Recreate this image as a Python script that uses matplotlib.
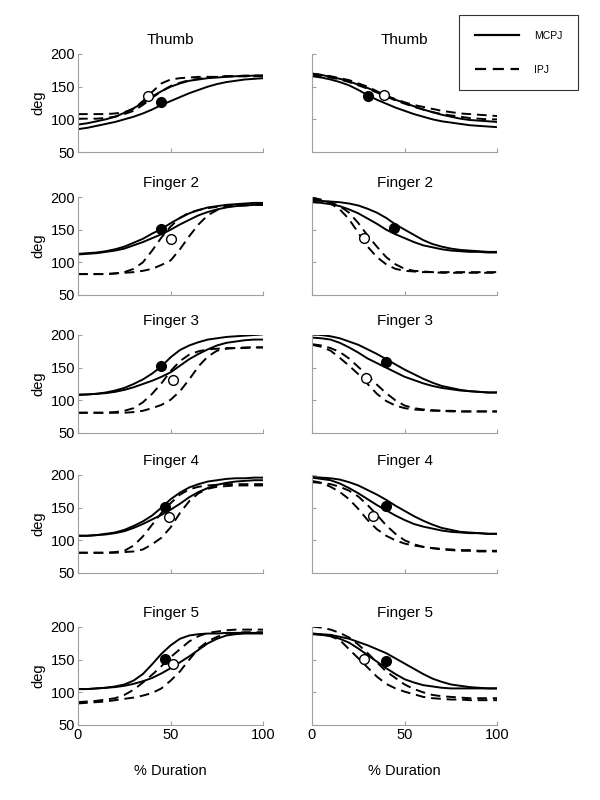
import matplotlib
matplotlib.use("Agg")
import matplotlib.pyplot as plt
from matplotlib.lines import Line2D

plt.rcParams['font.family'] = ['Liberation Sans', 'DejaVu Sans']

# --- % duration grid (every 5 %) ---
pct = list(range(0, 101, 5))

titles = ["Thumb", "Finger 2", "Finger 3", "Finger 4", "Finger 5"]

# --- left column (flexion), two MCPJ + two IPJ curves per digit ---
thumb_L_mcpj = [
    [85, 87, 90, 93, 96, 100, 104, 109, 115, 122, 128, 134, 140, 145, 150, 154, 157, 159, 161, 162, 163],
    [92, 94, 97, 100, 104, 110, 117, 125, 135, 143, 150, 155, 159, 161, 163, 164, 165, 166, 166, 167, 167],
]
thumb_L_ipj = [
    [108, 108, 108, 108, 109, 111, 116, 128, 142, 155, 161, 163, 164, 165, 165, 165, 166, 166, 166, 166, 166],
    [101, 101, 101, 102, 104, 108, 113, 122, 133, 143, 151, 156, 160, 162, 164, 165, 166, 166, 167, 167, 167],
]
f2_L_mcpj = [
    [113, 114, 115, 117, 120, 124, 130, 136, 144, 151, 160, 168, 175, 180, 184, 186, 188, 189, 190, 191, 191],
    [112, 113, 114, 116, 118, 121, 126, 131, 137, 143, 150, 158, 165, 172, 177, 181, 184, 186, 187, 188, 188],
]
f2_L_ipj = [
    [82, 82, 82, 82, 83, 85, 90, 100, 118, 138, 155, 168, 176, 180, 183, 185, 186, 187, 187, 188, 188],
    [82, 82, 82, 82, 83, 84, 85, 87, 90, 96, 103, 120, 140, 158, 172, 180, 185, 187, 188, 189, 189],
]
f3_L_mcpj = [
    [109, 109, 110, 112, 115, 119, 125, 132, 141, 152, 166, 177, 184, 189, 193, 195, 197, 198, 199, 200, 201],
    [108, 109, 110, 111, 113, 116, 120, 125, 130, 136, 143, 153, 163, 171, 178, 184, 188, 190, 192, 193, 193],
]
f3_L_ipj = [
    [81, 81, 81, 81, 82, 84, 88, 97, 110, 126, 145, 160, 170, 175, 178, 179, 180, 180, 181, 181, 181],
    [81, 81, 81, 81, 81, 81, 82, 84, 88, 93, 101, 114, 132, 152, 167, 176, 179, 180, 180, 181, 181],
]
f4_L_mcpj = [
    [107, 107, 108, 110, 112, 116, 122, 129, 138, 150, 163, 173, 181, 186, 190, 192, 194, 195, 195, 196, 196],
    [107, 107, 108, 109, 111, 114, 119, 125, 132, 139, 147, 156, 166, 174, 180, 185, 188, 190, 191, 192, 192],
]
f4_L_ipj = [
    [81, 81, 81, 81, 82, 84, 92, 106, 124, 142, 157, 170, 178, 182, 184, 185, 186, 186, 186, 186, 186],
    [81, 81, 81, 81, 81, 82, 83, 86, 94, 104, 120, 142, 160, 172, 179, 182, 183, 184, 184, 184, 184],
]
f5_L_mcpj = [
    [105, 105, 106, 107, 109, 112, 118, 128, 143, 159, 172, 182, 187, 189, 190, 190, 191, 191, 191, 191, 191],
    [105, 105, 106, 107, 108, 110, 113, 117, 122, 129, 137, 146, 155, 165, 175, 182, 187, 189, 190, 190, 190],
]
f5_L_ipj = [
    [85, 86, 87, 89, 91, 96, 104, 115, 127, 140, 154, 166, 178, 186, 191, 193, 195, 196, 196, 196, 196],
    [83, 84, 85, 86, 88, 90, 92, 95, 99, 106, 118, 132, 150, 167, 178, 185, 190, 191, 192, 192, 192],
]

# --- right column (extension) ---
thumb_R_mcpj = [
    [166, 164, 161, 157, 152, 145, 137, 130, 124, 118, 113, 108, 104, 100, 97, 95, 93, 91, 90, 89, 88],
    [170, 168, 165, 162, 158, 153, 148, 142, 136, 130, 125, 120, 115, 111, 107, 104, 101, 99, 98, 97, 96],
]
thumb_R_ipj = [
    [170, 168, 166, 163, 160, 155, 150, 143, 136, 131, 126, 122, 119, 116, 113, 111, 109, 108, 107, 106, 105],
    [168, 166, 164, 161, 157, 152, 147, 141, 135, 129, 124, 119, 115, 111, 108, 106, 104, 102, 101, 100, 100],
]
f2_R_mcpj = [
    [194, 194, 193, 192, 190, 187, 182, 176, 168, 158, 150, 142, 134, 128, 124, 121, 119, 118, 117, 116, 116],
    [192, 191, 189, 186, 181, 175, 167, 159, 150, 143, 137, 131, 126, 123, 120, 118, 117, 116, 116, 115, 115],
]
f2_R_ipj = [
    [199, 196, 190, 181, 166, 145, 124, 108, 97, 90, 87, 86, 85, 85, 84, 84, 84, 84, 84, 84, 84],
    [197, 195, 192, 186, 176, 160, 141, 124, 108, 97, 90, 87, 86, 85, 85, 85, 85, 85, 85, 85, 85],
]
f3_R_mcpj = [
    [201, 200, 198, 195, 190, 185, 178, 171, 163, 155, 147, 140, 133, 127, 122, 119, 116, 114, 113, 112, 112],
    [196, 195, 193, 188, 181, 173, 164, 157, 150, 143, 136, 131, 126, 122, 119, 117, 115, 114, 113, 112, 112],
]
f3_R_ipj = [
    [185, 182, 176, 165, 153, 140, 125, 110, 99, 92, 88, 86, 85, 84, 84, 83, 83, 83, 83, 83, 83],
    [186, 184, 180, 174, 164, 151, 138, 124, 111, 100, 92, 88, 86, 85, 84, 84, 83, 83, 83, 83, 83],
]
f4_R_mcpj = [
    [197, 196, 195, 193, 189, 184, 177, 170, 162, 153, 145, 137, 130, 124, 119, 116, 113, 112, 111, 110, 110],
    [196, 194, 192, 187, 180, 172, 163, 154, 146, 138, 131, 125, 121, 118, 115, 113, 112, 111, 111, 110, 110],
]
f4_R_ipj = [
    [191, 188, 182, 174, 163, 148, 131, 117, 107, 100, 95, 92, 90, 88, 87, 86, 85, 85, 84, 84, 84],
    [189, 188, 186, 182, 176, 167, 154, 139, 123, 110, 100, 94, 90, 88, 86, 85, 84, 84, 83, 83, 83],
]
f5_R_mcpj = [
    [190, 189, 188, 185, 182, 177, 172, 166, 160, 152, 144, 136, 128, 121, 116, 112, 110, 108, 107, 106, 106],
    [189, 188, 186, 182, 176, 167, 157, 147, 137, 128, 120, 115, 111, 109, 107, 106, 106, 106, 106, 106, 106],
]
f5_R_ipj = [
    [201, 199, 196, 191, 184, 173, 160, 146, 132, 122, 112, 105, 100, 96, 94, 93, 92, 91, 91, 91, 91],
    [190, 188, 186, 180, 166, 152, 138, 124, 113, 106, 101, 97, 93, 91, 90, 89, 89, 88, 88, 88, 88],
]

# --- marker points (% duration, deg): filled = MCPJ, open = IPJ ---
mcpj_pts_L = [(45, 126), (45, 151), (45, 153), (47, 151), (47, 151)]
ipj_pts_L = [(38, 136), (50, 135), (51, 131), (49, 136), (51, 144)]
mcpj_pts_R = [(30, 136), (44, 153), (40, 158), (40, 153), (40, 148)]
ipj_pts_R = [(39, 137), (28, 138), (29, 134), (33, 137), (28, 151)]

left_mcpj = [thumb_L_mcpj, f2_L_mcpj, f3_L_mcpj, f4_L_mcpj, f5_L_mcpj]
left_ipj = [thumb_L_ipj, f2_L_ipj, f3_L_ipj, f4_L_ipj, f5_L_ipj]
right_mcpj = [thumb_R_mcpj, f2_R_mcpj, f3_R_mcpj, f4_R_mcpj, f5_R_mcpj]
right_ipj = [thumb_R_ipj, f2_R_ipj, f3_R_ipj, f4_R_ipj, f5_R_ipj]

# axes placement (pixel rows of the 600x800 figure)
row_bottoms = [0.81, 0.63125, 0.45875, 0.28375, 0.09375]
col_lefts = [0.13, 0.52]
ax_w, ax_h = 0.309, 0.1225
dash = (0, (5, 3))

fig = plt.figure(figsize=(6, 8), dpi=100)

for r in range(5):
    for c in range(2):
        ax = fig.add_axes([col_lefts[c], row_bottoms[r], ax_w, ax_h])
        mc = left_mcpj[r] if c == 0 else right_mcpj[r]
        ip = left_ipj[r] if c == 0 else right_ipj[r]
        fp = mcpj_pts_L[r] if c == 0 else mcpj_pts_R[r]
        op = ipj_pts_L[r] if c == 0 else ipj_pts_R[r]
        for y in ip:
            ax.plot(pct, y, color='black', lw=1.4, ls=dash)
        for y in mc:
            ax.plot(pct, y, color='black', lw=1.4)
        ax.plot(*fp, 'o', ms=7, mfc='black', mec='black', zorder=5)
        ax.plot(*op, 'o', ms=7, mfc='white', mec='black', mew=1.0, zorder=5)

        ax.set_xlim(0, 100)
        ax.set_ylim(50, 200)
        ax.set_xticks([0, 50, 100])
        ax.set_yticks([50, 100, 150, 200])
        ax.set_title(titles[r], fontsize=11, pad=7)
        for s in ['top', 'right']:
            ax.spines[s].set_visible(False)
        for s in ['left', 'bottom']:
            ax.spines[s].set_color('#a0a0a0')
            ax.spines[s].set_linewidth(0.8)
        ax.tick_params(direction='in', length=3, color='#a0a0a0', labelsize=10.5, pad=2)
        if c == 0:
            ax.set_ylabel('deg', fontsize=10.5, labelpad=4)
        else:
            ax.tick_params(labelleft=False)
        if r < 4:
            ax.tick_params(labelbottom=False)
        else:
            ax.set_xlabel('% Duration', fontsize=10.5, labelpad=16)

handles = [Line2D([], [], color='black', lw=1.6),
           Line2D([], [], color='black', lw=1.6, ls=dash)]
leg = fig.legend(handles, ['MCPJ', 'IPJ'], loc='upper right',
                 bbox_to_anchor=(578 / 600, 1 - 15 / 800), fontsize=7.5,
                 handlelength=4.3, handletextpad=1.4, labelspacing=2.3,
                 borderpad=1.5, borderaxespad=0, fancybox=False, frameon=True)
leg.get_frame().set_edgecolor('black')
leg.get_frame().set_linewidth(0.8)

fig.savefig('out.png', dpi=100)
